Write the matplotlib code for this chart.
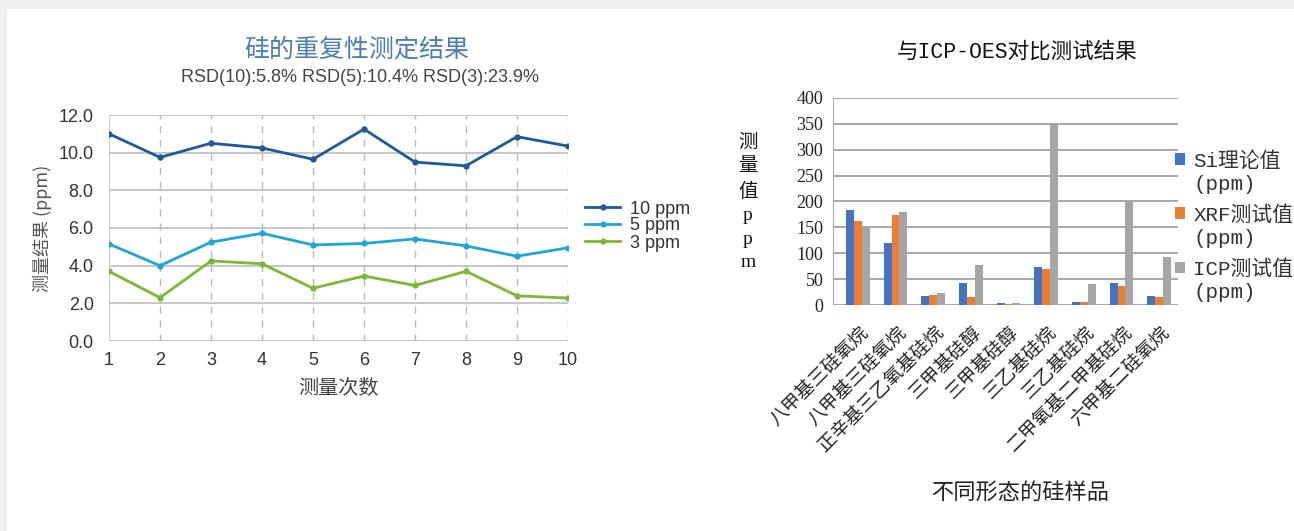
import matplotlib
matplotlib.use("Agg")
import matplotlib.pyplot as plt
from matplotlib.patches import Rectangle
import numpy as np

plt.rcParams['font.family'] = ['Noto Sans CJK SC', 'DejaVu Sans']

# ---- data: left chart ----
runs = [1, 2, 3, 4, 5, 6, 7, 8, 9, 10]
s10 = [11.0, 9.75, 10.5, 10.25, 9.65, 11.25, 9.5, 9.3, 10.85, 10.35]
s5 = [5.15, 4.0, 5.25, 5.72, 5.1, 5.18, 5.42, 5.05, 4.5, 4.95]
s3 = [3.7, 2.3, 4.25, 4.1, 2.8, 3.45, 2.95, 3.7, 2.4, 2.28]
line_labels = ['10 ppm', '5 ppm', '3 ppm']
left_yticks = [0, 2, 4, 6, 8, 10, 12]

# ---- data: right chart ----
samples = ['八甲基三硅氧烷', '八甲基三硅氧烷', '正辛基三乙氧基硅烷', '三甲基硅醇',
           '三甲基硅醇', '三乙基硅烷', '三乙基硅烷', '二甲氧基二甲基硅烷', '六甲基二硅氧烷']
si_theory = [183, 120, 18, 43, 3, 73, 5, 43, 18]
xrf_vals = [162, 173, 20, 15, 1, 70, 5, 37, 15]
icp_vals = [150, 180, 23, 78, 3, 350, 40, 200, 93]
bar_labels = ['Si理论值\n(ppm)', 'XRF测试值\n(ppm)', 'ICP测试值\n(ppm)']
right_yticks = [0, 50, 100, 150, 200, 250, 300, 350, 400]

SANS = ['Liberation Sans', 'Noto Sans CJK SC']
SERIF = ['Liberation Serif', 'Noto Sans CJK SC']
MONO = ['Liberation Mono', 'Noto Sans CJK SC']

fig = plt.figure(figsize=(12.94, 5.31), dpi=100)
fig.patch.set_facecolor('#f0f0f0')
fig.add_artist(Rectangle((7/1294, 0), 1, 1 - 9/531, transform=fig.transFigure,
                         facecolor='white', edgecolor='none', zorder=-10))

# ---------------- left chart ----------------
ax = fig.add_axes([109/1294, (531-341)/531, 459/1294, 226/531])
ax.set_facecolor('none')
cols = ['#1d5a9a', '#1ea6d9', '#7db832']
for ys, c, lab in zip([s10, s5, s3], cols, line_labels):
    ax.plot(runs, ys, color=c, lw=2, marker='o', ms=3.5, label=lab, zorder=3)
ax.set_xlim(1, 10)
ax.set_ylim(0, 12)
ax.set_xticks(runs)
ax.set_yticks(left_yticks)
ax.set_yticklabels([f'{v:.1f}' for v in left_yticks])
for y in left_yticks:
    ax.axhline(y, color='#c8c8c8', lw=1.5, zorder=1)
for x in runs[1:]:
    ax.axvline(x, color='#b8b8b8', lw=1, ls=(0, (5, 5)), zorder=1)
ax.axvline(1, color='#c8c8c8', lw=1.3, zorder=1)
for s in ax.spines.values():
    s.set_visible(False)
ax.tick_params(length=0, labelsize=13, colors='#333333')
ax.tick_params(axis='y', pad=11)
ax.tick_params(axis='x', pad=8)
for t in ax.get_xticklabels() + ax.get_yticklabels():
    t.set_family(SANS)
ax.set_xlabel('测量次数', fontsize=14.5, color='#444444', va='center')
ax.xaxis.set_label_coords(0.5, (341 - 388) / 226)
ax.set_ylabel('测量结果 (ppm)', fontsize=13, color='#555555', va='center')
ax.yaxis.set_label_coords((42 - 109) / 459, 0.5)
ax.legend(loc='center left', bbox_to_anchor=((585 - 109) / 459, (341 - 226) / 226),
          frameon=False, prop={'family': SANS, 'size': 13}, handlelength=1.95,
          labelspacing=0.0, handletextpad=0.55, labelcolor='#333333',
          borderaxespad=0, borderpad=0)
fig.text(357/1294, 1 - 50/531, '硅的重复性测定结果', ha='center', va='center',
         fontsize=18, color='#4a7cb5')
fig.text(360/1294, 1 - 78/531, 'RSD(10):5.8% RSD(5):10.4% RSD(3):23.9%',
         ha='center', va='center', fontsize=13, color='#444444', family=SANS)

# ---------------- right chart ----------------
ax2 = fig.add_axes([833/1294, (531-305)/531, 345/1294, 207/531])
ax2.set_facecolor('none')
x = np.arange(len(samples))
w = 0.21
bcols = ['#4472c4', '#ed7d31', '#a5a5a5']
for i, (vals, c, lab) in enumerate(zip([si_theory, xrf_vals, icp_vals], bcols, bar_labels)):
    ax2.bar(x + (i - 1) * w, vals, width=w, color=c, label=lab, zorder=3)
ax2.set_xlim(-0.66, len(samples) - 0.5)
ax2.set_ylim(0, 400)
ax2.set_yticks(right_yticks)
for y in right_yticks:
    ax2.axhline(y, color='#a8a8a8', lw=1.4, zorder=1)
ax2.axvline(-0.66, color='#a8a8a8', lw=1.4, zorder=1)
for s in ax2.spines.values():
    s.set_visible(False)
ax2.set_xticks(x)
ax2.set_xticklabels(samples, rotation=45, ha='right', rotation_mode='anchor',
                    fontsize=13.5, color='#444444')
ax2.tick_params(length=0, colors='#222222')
ax2.tick_params(axis='x', pad=12)
ax2.tick_params(axis='y', pad=7)
for t in ax2.get_yticklabels():
    t.set_family(SERIF)
    t.set_fontsize(13)
ax2.set_xlabel('不同形态的硅样品', fontsize=16, color='#222222', va='center')
ax2.xaxis.set_label_coords((1020 - 833) / 345, (305 - 492) / 207)
fig.text(748/1294, 1 - 203/531, '测\n量\n值\np\np\nm', ha='center', va='center',
         fontsize=14, color='#111111', linespacing=1.5, family=SERIF)
leg = ax2.legend(loc='upper left', bbox_to_anchor=(0.99, (305 - 151) / 207),
                 frameon=False, prop={'family': MONO, 'size': 15},
                 handlelength=0.5, handleheight=0.5, handletextpad=0.4,
                 labelspacing=0.55, labelcolor='#333333', borderaxespad=0,
                 borderpad=0)
for t in leg.get_texts():
    t.set_linespacing(1.27)
for h in leg.legend_handles:
    h.set_y(h.get_y() + 9.5)
fig.text(1017/1294, 1 - 52/531, '与ICP-OES对比测试结果', ha='center', va='center',
         fontsize=15.5, color='#111111', family=MONO)

fig.savefig('out.png', dpi=100, facecolor=fig.get_facecolor())
